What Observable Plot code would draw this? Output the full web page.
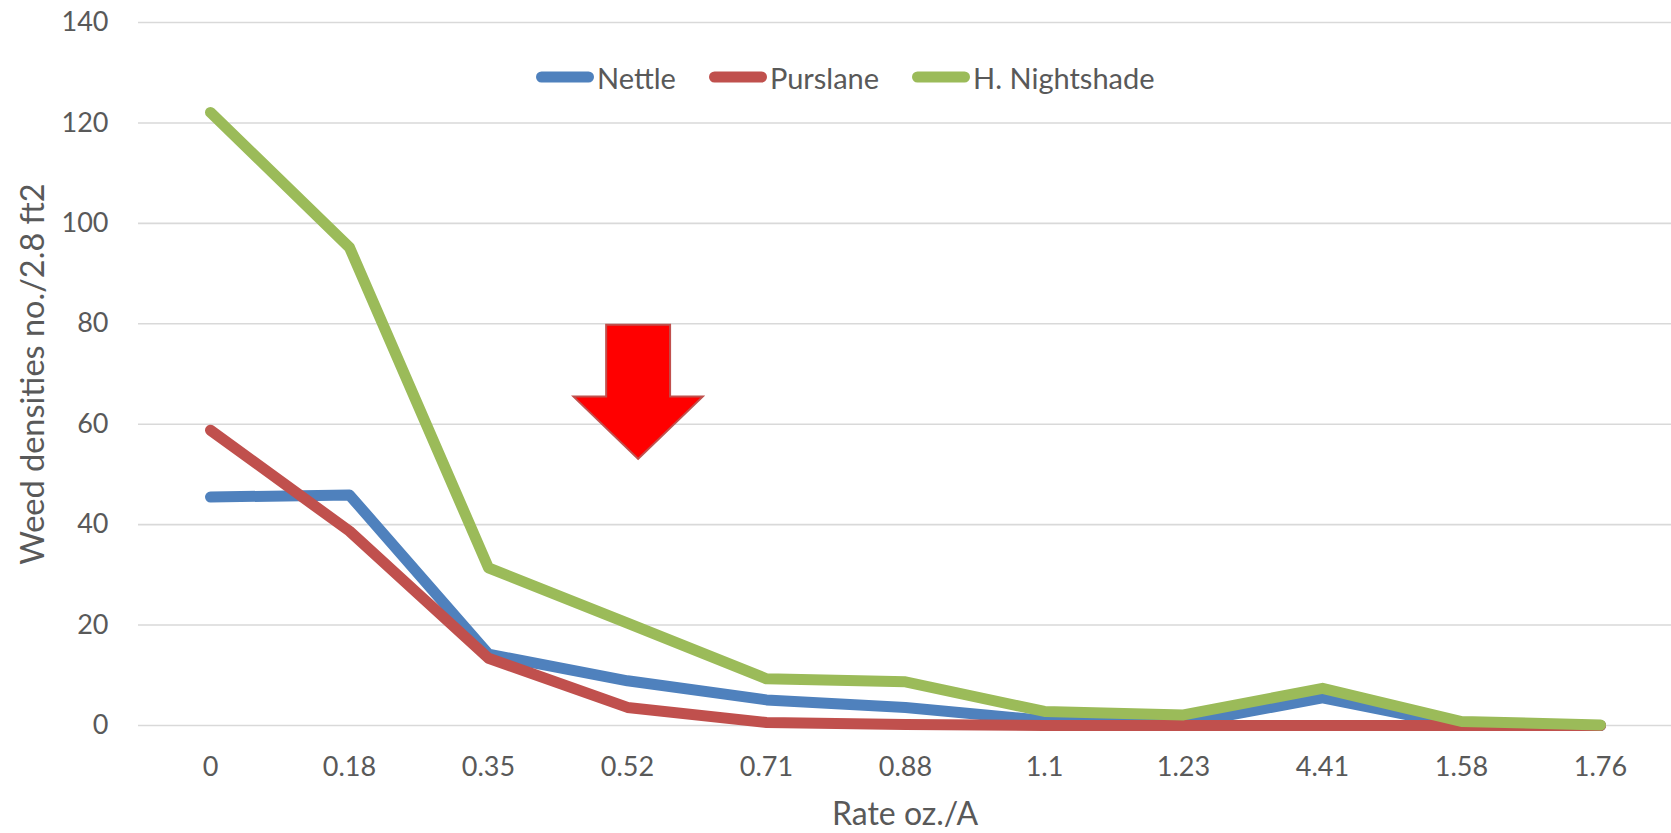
<!DOCTYPE html>
<html>
<head>
<meta charset="utf-8">
<script src="https://cdn.jsdelivr.net/npm/d3@7"></script>
<script src="https://cdn.jsdelivr.net/npm/@observablehq/plot@0.6"></script>
<style>
  html, body { margin: 0; padding: 0; background: #ffffff; }
  #wrap { position: relative; width: 1671px; height: 833px; font-family: Lato, "Open Sans", sans-serif; color: #595959; }
  #legend { position: absolute; top: 59px; left: 536px; display: flex; gap: 33px; align-items: center; height: 36px; font-size: 29px; color: #595959; }
  .item { display: flex; align-items: center; }
  .item svg { display: block; margin-right: 3px; }
</style>
</head>
<body>
<div id="wrap">
  <div id="chart"></div>
  <div id="legend"></div>
</div>
<script>
// ---- data ----
const categories = ["0", "0.18", "0.35", "0.52", "0.71", "0.88", "1.1", "1.23", "4.41", "1.58", "1.76"];
const seriesNames = ["Nettle", "Purslane", "H. Nightshade"];
const nettle = [45.5, 45.9, 14.2, 8.9, 5.1, 3.6, 1.0, 0.4, 5.5, 0, 0];
const purslane = [58.8, 38.7, 13.4, 3.6, 0.6, 0.2, 0, 0, 0, 0, 0];
const nightshade = [122.1, 95.2, 31.4, 20.4, 9.3, 8.7, 2.8, 2.1, 7.4, 0.8, 0.1];
const yTicks = [0, 20, 40, 60, 80, 100, 120, 140];
const xTitle = "Rate oz./A";
const yTitle = "Weed densities no./2.8 ft2";

// ---- styles ----
const colors = ["#4F81BD", "#C0504D", "#9BBB59"];
const textColor = "#595959";

// arrow annotation (in data terms: category, and y values)
const arrowSpec = { category: "0.52", top: 79.7, head: 65.4, tip: 53.0, shift: 0.08, shaftHalf: 0.23, headHalf: 0.465 };

const seriesValues = [nettle, purslane, nightshade];
const rows = [];
seriesNames.forEach((name, s) => {
  categories.forEach((c, i) => rows.push({ series: name, rate: c, value: seriesValues[s][i] }));
});

function arrowMark(index, scales) {
  const x = scales.x, y = scales.y;
  const i = categories.indexOf(arrowSpec.category);
  const step = x(categories[i + 1]) - x(categories[i]);
  const cx = x(arrowSpec.category) + arrowSpec.shift * step;
  const sh = arrowSpec.shaftHalf * step, hh = arrowSpec.headHalf * step;
  const yt = y(arrowSpec.top), yh = y(arrowSpec.head), yp = y(arrowSpec.tip);
  const d = `M${cx - sh},${yt}L${cx + sh},${yt}L${cx + sh},${yh}L${cx + hh},${yh}L${cx},${yp}L${cx - hh},${yh}L${cx - sh},${yh}Z`;
  const p = d3.create("svg:path")
    .attr("d", d)
    .attr("fill", "#FF0000")
    .attr("stroke", "#C0504D")
    .attr("stroke-width", 2);
  return p.node();
}

const chart = Plot.plot({
  width: 1671,
  height: 833,
  marginLeft: 138,
  marginRight: 0,
  marginTop: 22,
  marginBottom: 108,
  style: { fontFamily: "Lato, 'Open Sans', sans-serif", fontSize: "27px", color: textColor, background: "#ffffff" },
  x: { type: "point", domain: categories, padding: 0.5, align: 0.5 },
  y: { domain: [0, 140] },
  color: { domain: seriesNames, range: colors },
  marks: [
    Plot.gridY(yTicks, { stroke: "#D9D9D9", strokeOpacity: 1, strokeWidth: 1.6 }),
    Plot.axisY(yTicks, { tickSize: 0, tickPadding: 30, label: null, fontSize: 27, fill: textColor }),
    Plot.axisX({ tickSize: 0, tickPadding: 31, label: null, fontSize: 27, fill: textColor }),
    Plot.lineY(rows, {
      x: "rate", y: "value", z: "series", stroke: "series",
      strokeWidth: 11, strokeLinecap: "round", strokeLinejoin: "round"
    }),
    arrowMark,
    Plot.text([yTitle], { text: d => d, frameAnchor: "left", dx: -105, rotate: -90, textAnchor: "middle", lineAnchor: "middle", fontSize: 32.5, fill: textColor }),
    Plot.text([xTitle], { text: d => d, frameAnchor: "bottom", dy: 89, textAnchor: "middle", lineAnchor: "middle", fontSize: 32, fill: textColor })
  ]
});
document.getElementById("chart").appendChild(chart);

// legend
const legend = d3.select("#legend");
seriesNames.forEach((name, i) => {
  const item = legend.append("div").attr("class", "item");
  const sw = item.append("svg").attr("width", 58).attr("height", 14);
  sw.append("line").attr("x1", 5.5).attr("x2", 52.5).attr("y1", 7).attr("y2", 7)
    .attr("stroke", colors[i]).attr("stroke-width", 11).attr("stroke-linecap", "round");
  item.append("span").text(name);
});
</script>
</body>
</html>
